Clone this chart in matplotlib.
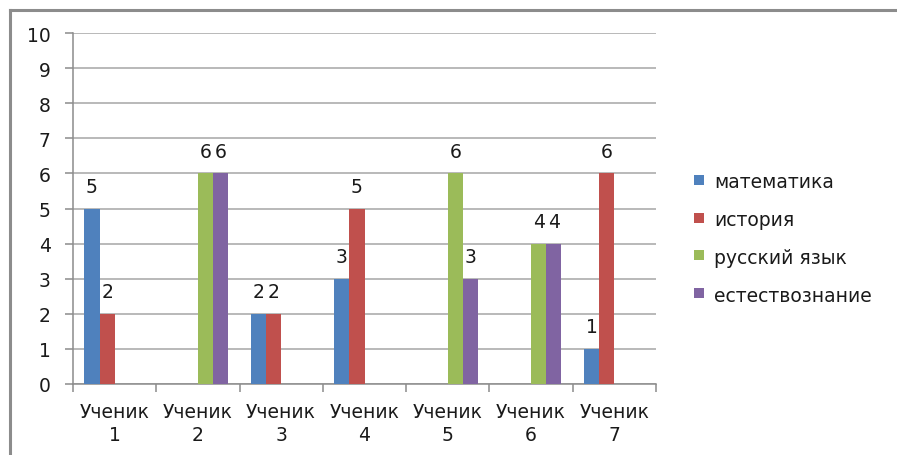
import numpy as np
import matplotlib.pyplot as plt
from matplotlib.patches import Rectangle
from matplotlib.lines import Line2D

plt.rcParams['font.family'] = ['DejaVu Sans']

students = ["Ученик\n1", "Ученик\n2", "Ученик\n3", "Ученик\n4",
            "Ученик\n5", "Ученик\n6", "Ученик\n7"]
subjects = ["математика", "история", "русский язык", "естествознание"]
math = [5, np.nan, 2, 3, np.nan, np.nan, 1]
history = [2, np.nan, 2, 5, np.nan, np.nan, 6]
russian = [np.nan, 6, np.nan, np.nan, 6, 4, np.nan]
science = [np.nan, 6, np.nan, np.nan, 3, 4, np.nan]
colors = ['#4F81BD', '#C0504D', '#9BBB59', '#8064A2']

W, H = 897, 456
FS = 13.5
TXT = '#1a1a1a'
fig = plt.figure(figsize=(W / 100, H / 100), dpi=100)
ax = fig.add_axes([73 / W, (H - 385) / H, (656 - 73) / W, (385 - 34) / H])

# outer chart border (only top and left visible)
fig.add_artist(Line2D([10 / W, 10 / W], [0, (H - 11) / H], color='#8c8c8c', lw=2.2))
fig.add_artist(Line2D([10 / W, 1], [(H - 11) / H, (H - 11) / H], color='#8c8c8c', lw=2.2))

x = np.arange(len(students))
bw = 1 / 5.5
series = [math, history, russian, science]
for i, (vals, col) in enumerate(zip(series, colors)):
    pos = x + (i - 1.5) * bw
    v = np.array(vals, dtype=float)
    ax.bar(pos, np.nan_to_num(v), width=bw, color=col, zorder=3)
    for p, val in zip(pos, v):
        if not np.isnan(val):
            ax.text(p, val + 0.36, f"{int(val)}", ha='center', va='bottom',
                    fontsize=FS, color=TXT)

ax.set_xlim(-0.5, len(students) - 0.5)
ax.set_ylim(0, 10)
ax.set_yticks(range(0, 11))
ax.yaxis.grid(True, color='#a6a6a6', lw=1.1, zorder=0)
ax.set_axisbelow(True)

ax.set_xticks(x)
ax.set_xticklabels(students, fontsize=FS, linespacing=1.25)
ax.tick_params(axis='x', length=0, pad=13, colors=TXT)
ax.set_xticks(np.arange(-0.5, len(students)), minor=True)
ax.tick_params(axis='x', which='minor', length=6, color='#8c8c8c', width=1.1)
ax.tick_params(axis='y', length=6, color='#8c8c8c', width=1.1, labelsize=FS,
               labelcolor=TXT, pad=10)

for s in ['top', 'right']:
    ax.spines[s].set_visible(False)
for s in ['left', 'bottom']:
    ax.spines[s].set_color('#8c8c8c')
    ax.spines[s].set_linewidth(1.1)

# legend, drawn by hand to match the row spacing
for k, (name, col) in enumerate(zip(subjects, colors)):
    yc = 181 + k * 37.7
    fig.add_artist(Rectangle((694 / W, (H - yc - 5) / H), 10 / W, 10 / H,
                             facecolor=col, edgecolor='none'))
    fig.text(714 / W, (H - yc) / H, name, fontsize=FS, color=TXT, va='center_baseline')

fig.savefig("out.png", dpi=100)
